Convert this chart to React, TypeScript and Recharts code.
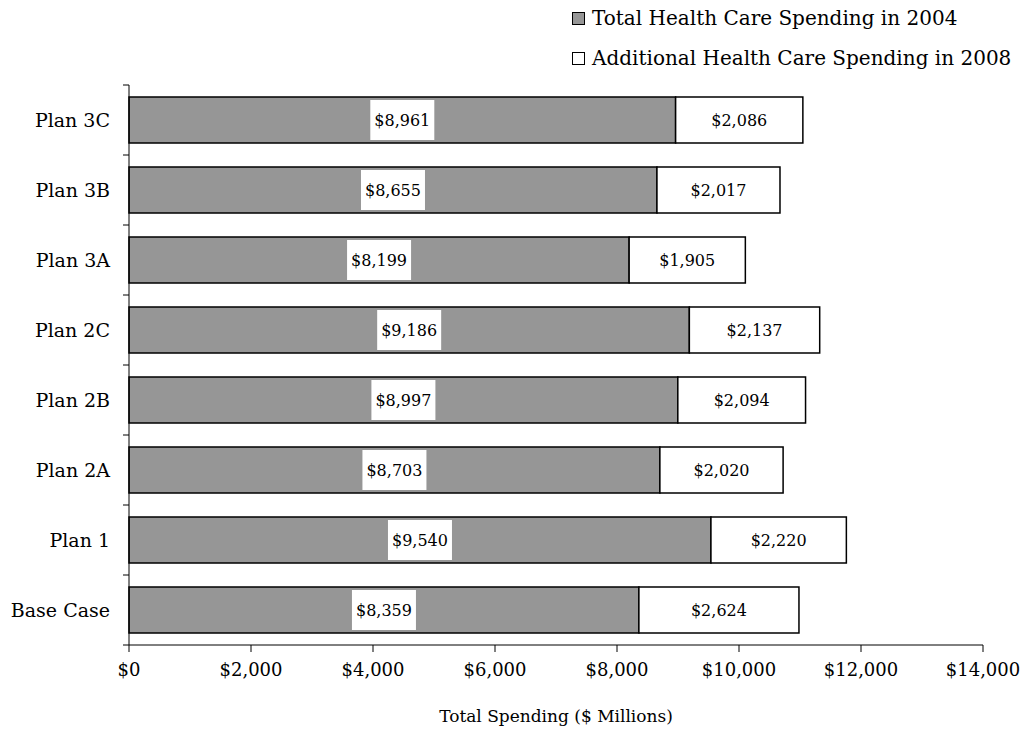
import { BarChart, Bar, XAxis, YAxis, Legend, LabelList } from 'recharts';

const plans = ['Plan 3C', 'Plan 3B', 'Plan 3A', 'Plan 2C', 'Plan 2B', 'Plan 2A', 'Plan 1', 'Base Case'];
const spending2004 = [8961, 8655, 8199, 9186, 8997, 8703, 9540, 8359];
const additional2008 = [2086, 2017, 1905, 2137, 2094, 2020, 2220, 2624];
const xTicks = [0, 2000, 4000, 6000, 8000, 10000, 12000, 14000];
const bandTicks = [0, 1, 2, 3, 4, 5, 6, 7, 8];

const data = plans.map((plan, i) => ({
  plan,
  slot: plans.length - i - 0.5,
  base: spending2004[i],
  extra: additional2008[i],
}));

const FONT = '"DejaVu Serif", "Liberation Serif", serif';
const GRAY = '#969696';

const money = (v: number) => '$' + v.toLocaleString('en-US');

function BoxedLabel(props: any) {
  const { x, y, width, height, value } = props;
  const cx = x + width / 2;
  const cy = y + height / 2;
  return (
    <g>
      <rect x={cx - 32} y={cy - 20} width={64} height={40} fill="#fff" />
      <text x={cx} y={cy} textAnchor="middle" dominantBaseline="central" fontSize={16} fontFamily={FONT} fill="#000">
        {money(value)}
      </text>
    </g>
  );
}

function PlainLabel(props: any) {
  const { x, y, width, height, value } = props;
  return (
    <text x={x + width / 2} y={y + height / 2} textAnchor="middle" dominantBaseline="central" fontSize={16} fontFamily={FONT} fill="#000">
      {money(value)}
    </text>
  );
}

function LegendBox() {
  const items = [
    { label: 'Total Health Care Spending in 2004', fill: GRAY },
    { label: 'Additional Health Care Spending in 2008', fill: '#fff' },
  ];
  return (
    <div style={{ fontFamily: FONT, fontSize: 20, color: '#000' }}>
      {items.map((it) => (
        <div key={it.label} style={{ display: 'flex', alignItems: 'center', height: 40, whiteSpace: 'nowrap' }}>
          <span style={{ display: 'inline-block', width: 11, height: 11, background: it.fill, border: '1px solid #000', marginRight: 7 }} />
          {it.label}
        </div>
      ))}
    </div>
  );
}

export default function App() {
  return (
    <div style={{ position: 'absolute', left: 0, top: 0, background: '#fff' }}>
      <BarChart
        width={1025}
        height={736}
        data={data}
        layout="vertical"
        margin={{ top: 85, right: 42, bottom: 0, left: 8 }}
      >
        <XAxis
          type="number"
          domain={[0, 14000]}
          ticks={xTicks}
          interval={0}
          tickFormatter={money}
          height={91}
          stroke="#000"
          tickSize={7}
          tick={{ fill: '#000', fontSize: 18, fontFamily: FONT, dy: 9 }}
          label={{ value: 'Total Spending ($ Millions)', position: 'insideBottom', offset: 14, fill: '#000', fontSize: 17, fontFamily: FONT }}
        />
        <YAxis
          yAxisId="bands"
          type="number"
          dataKey="slot"
          domain={[0, 8]}
          ticks={bandTicks}
          interval={0}
          allowDataOverflow
          width={1}
          stroke="#000"
          tickSize={6}
          tickFormatter={() => ''}
        />
        <YAxis
          yAxisId="cat"
          type="category"
          dataKey="plan"
          width={120}
          axisLine={false}
          tickLine={false}
          tick={{ fill: '#000', fontSize: 19, fontFamily: FONT, dx: -10 }}
        />
        <Legend
          layout="vertical"
          verticalAlign="middle"
          align="center"
          wrapperStyle={{ top: -2, left: 572, width: 453, height: 80 }}
          content={() => <LegendBox />}
        />
        <Bar yAxisId="cat" dataKey="base" stackId="a" fill={GRAY} stroke="#000" strokeWidth={1.5} barSize={46} isAnimationActive={false}>
          <LabelList dataKey="base" content={BoxedLabel} />
        </Bar>
        <Bar yAxisId="cat" dataKey="extra" stackId="a" fill="#fff" stroke="#000" strokeWidth={1.5} barSize={46} isAnimationActive={false}>
          <LabelList dataKey="extra" content={PlainLabel} />
        </Bar>
      </BarChart>
    </div>
  );
}
